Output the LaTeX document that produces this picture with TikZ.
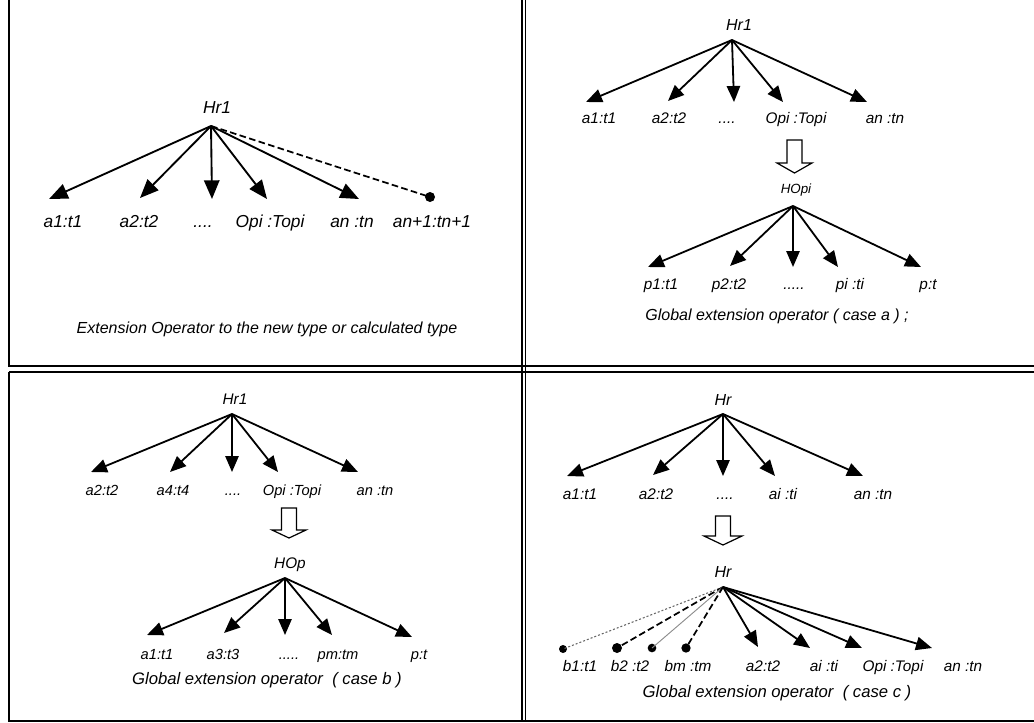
\documentclass[tikz,border=0pt]{standalone}
\usepackage{fontspec}
\setmainfont{Liberation Sans}
\usetikzlibrary{arrows.meta}
\begin{document}
\begin{tikzpicture}[x=0.75pt,y=-0.75pt,
  frame/.style={line width=1.1pt,black},
  lbl/.style={inner sep=0pt,anchor=base,font=\itshape\fontsize{#1}{#1}\selectfont},
  lbl/.default=11.5,
  big/.style={-{Triangle[length=14pt,width=11.5pt]},line width=1.4pt},
  arr/.style={-{Triangle[length=12pt,width=10pt]},line width=1.35pt},
  dsh/.style={dashed,dash pattern=on 5pt off 2.5pt,line width=1.3pt},
  dotl/.style={dash pattern=on 1.5pt off 1.5pt,line width=0.8pt,black!60},
  thin/.style={line width=0.7pt,black!45},
  blob/.style={circle,fill=black,inner sep=0pt,minimum size=#1},
  blob/.default=6pt,
  hollow/.style={line width=0.9pt,fill=white}]
\useasboundingbox (0,0) rectangle (1034,722);
% frame
\draw[frame] (9,0) -- (9,366) -- (1034,366);
\draw[frame] (9,372) -- (9,721) -- (1034,721);
\draw[frame] (9,372) -- (1034,372);
\draw[frame] (522,0) -- (522,722);
\draw[frame] (525.5,0) -- (525.5,722);

% ===== Panel 1 =====
\node[lbl=13] (p1h) at (217,113) {Hr1};
\coordinate (p1c) at (211,126);
\coordinate (p1t1) at (49,199);
\coordinate (p1t2) at (140,198);
\coordinate (p1t3) at (212,199);
\coordinate (p1t4) at (267,199);
\coordinate (p1t5) at (359,199);
\node[blob=7.5pt] (p1d) at (430,197) {};
\draw[big] (p1c) -- (p1t1);
\draw[big] (p1c) -- (p1t2);
\draw[big] (p1c) -- (p1t3);
\draw[big] (p1c) -- (p1t4);
\draw[big] (p1c) -- (p1t5);
\draw[dsh] (p1c) -- (p1d.center);
\node[lbl=13] (p1l1) at (63,227) {a1:t1};
\node[lbl=13] (p1l2) at (139,227) {a2:t2};
\node[lbl=13] (p1l3) at (203,227) {....};
\node[lbl=13] (p1l4) at (270,227) {Opi :Topi};
\node[lbl=13] (p1l5) at (352,227) {an :tn};
\node[lbl=13] (p1l6) at (432,227) {an+1:tn+1};
\node[lbl=12] (p1cap) at (267,333) {Extension Operator to the new type or calculated type};

% ===== Panel 2 =====
\node[lbl=12] (p2h) at (739,30) {Hr1};
\coordinate (p2c) at (732,40);
\coordinate (p2t1) at (586,102);
\coordinate (p2t2) at (668,101);
\coordinate (p2t3) at (734,102);
\coordinate (p2t4) at (783,102);
\coordinate (p2t5) at (867,102);
\foreach \i in {1,...,5} \draw[arr] (p2c) -- (p2t\i);
\node[lbl] (p2l1) at (599,123) {a1:t1};
\node[lbl] (p2l2) at (669,123) {a2:t2};
\node[lbl] (p2l3) at (727,123) {....};
\node[lbl] (p2l4) at (796,123) {Opi :Topi};
\node[lbl] (p2l5) at (885,123) {an :tn};
\draw[hollow] (787,140) -- (802,140) -- (802,163) -- (812,163) -- (794.5,173) -- (777,163) -- (787,163) -- cycle;
\node[lbl=10] (p2h2) at (796,193) {HOpi};
\coordinate (p2c2) at (793,206);
\coordinate (p2s1) at (648,267);
\coordinate (p2s2) at (730,266);
\coordinate (p2s3) at (793,267);
\coordinate (p2s4) at (838,267);
\coordinate (p2s5) at (921,267);
\foreach \i in {1,...,5} \draw[arr] (p2c2) -- (p2s\i);
\node[lbl] (p2m1) at (661,289) {p1:t1};
\node[lbl] (p2m2) at (729,289) {p2:t2};
\node[lbl] (p2m3) at (794,289) {.....};
\node[lbl] (p2m4) at (850,289) {pi :ti};
\node[lbl] (p2m5) at (928,289) {p:t};
\node[lbl=12] (p2cap) at (777,320) {Global extension operator ( case a ) ;};

% ===== Panel 3 =====
\node[lbl=11.5] (p3h) at (235,404) {Hr1};
\coordinate (p3c) at (232,414);
\coordinate (p3t1) at (91,472);
\coordinate (p3t2) at (170,472);
\coordinate (p3t3) at (232,472);
\coordinate (p3t4) at (278,472);
\coordinate (p3t5) at (358,472);
\foreach \i in {1,...,5} \draw[arr] (p3c) -- (p3t\i);
\node[lbl=11] (p3l1) at (102,495) {a2:t2};
\node[lbl=11] (p3l2) at (173,495) {a4:t4};
\node[lbl=11] (p3l3) at (233,495) {....};
\node[lbl=11] (p3l4) at (292,495) {Opi :Topi};
\node[lbl=11] (p3l5) at (375,495) {an :tn};
\draw[hollow] (281.5,508) -- (296.5,508) -- (296.5,530) -- (306,530) -- (289,538) -- (272,530) -- (281.5,530) -- cycle;
\node[lbl=11.5] (p3h2) at (290,568) {HOp};
\coordinate (p3c2) at (285,578);
\coordinate (p3s1) at (147,635);
\coordinate (p3s2) at (224,633);
\coordinate (p3s3) at (285,635);
\coordinate (p3s4) at (332,635);
\coordinate (p3s5) at (412,637);
\foreach \i in {1,...,5} \draw[arr] (p3c2) -- (p3s\i);
\node[lbl=11] (p3m1) at (157,659) {a1:t1};
\node[lbl=11] (p3m2) at (223,659) {a3:t3};
\node[lbl=11] (p3m3) at (289,659) {.....};
\node[lbl=11] (p3m4) at (338,659) {pm:tm};
\node[lbl=11] (p3m5) at (419,659) {p:t};
\node[lbl=12.5] (p3cap) at (267,684) {Global extension operator \ ( case b )};

% ===== Panel 4 =====
\node[lbl=12] (p4h) at (723,405) {Hr};
\coordinate (p4c) at (723,414);
\coordinate (p4t1) at (567,476);
\coordinate (p4t2) at (653,475);
\coordinate (p4t3) at (723,476);
\coordinate (p4t4) at (775,476);
\coordinate (p4t5) at (863,476);
\foreach \i in {1,...,5} \draw[arr] (p4c) -- (p4t\i);
\node[lbl] (p4l1) at (580,499) {a1:t1};
\node[lbl] (p4l2) at (656,499) {a2:t2};
\node[lbl] (p4l3) at (725,499) {....};
\node[lbl] (p4l4) at (783,499) {ai :ti};
\node[lbl] (p4l5) at (873,499) {an :tn};
\draw[hollow] (715.5,516) -- (730.5,516) -- (730.5,536) -- (742,536) -- (723,545) -- (704,536) -- (715.5,536) -- cycle;
\node[lbl=12] (p4h2) at (723,577) {Hr};
\coordinate (p4c2) at (723,587);
\node[blob=6pt] (p4b1) at (563,649) {};
\node[blob=7.5pt] (p4b2) at (617,648) {};
\node[blob=6.5pt] (p4b3) at (652,648) {};
\node[blob=7pt] (p4b4) at (686,648) {};
\draw[dotl] (p4c2) -- (p4b1.center);
\draw[dsh] (p4c2) -- (p4b2.center);
\draw[thin] (p4c2) -- (p4b3.center);
\draw[dsh] (p4c2) -- (p4b4.center);
\coordinate (p4s1) at (758,647);
\coordinate (p4s2) at (810,648);
\coordinate (p4s3) at (862,648);
\coordinate (p4s4) at (932,648);
\foreach \i in {1,...,4} \draw[arr] (p4c2) -- (p4s\i);
\node[lbl] (p4m1) at (580,671) {b1:t1};
\node[lbl] (p4m2) at (630,671) {b2 :t2};
\node[lbl] (p4m3) at (688,671) {bm :tm};
\node[lbl] (p4m4) at (763,671) {a2:t2};
\node[lbl] (p4m5) at (824,671) {ai :ti};
\node[lbl] (p4m6) at (893,671) {Opi :Topi};
\node[lbl] (p4m7) at (963,671) {an :tn};
\node[lbl=12.5] (p4cap) at (777,697) {Global extension operator \ ( case c )};
\end{tikzpicture}
\end{document}
